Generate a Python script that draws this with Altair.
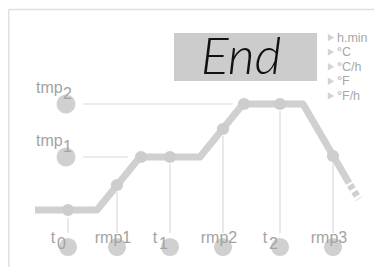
import altair as alt
import pandas as pd

# ---- schematic data (units: schematic time / temperature positions) ----
profile_t = [35, 97, 140, 200, 243, 303, 349]
profile_v = [210, 210, 157, 157, 104, 104, 183]
tail_t = [350, 359]
tail_v = [185, 199]

node_t = [68, 117, 141, 170, 223, 244, 280, 333]
node_v = [210, 185, 157, 157, 129, 104, 104, 156]

stage_t = [68, 117, 170, 223, 280, 333]
stage_top = [218, 192, 164, 136, 111, 163]
stage_main = ["t", "rmp1", "t", "rmp2", "t", "rmp3"]
stage_sub = ["0", "", "1", "", "2", ""]
stage_bottom = 233
stage_circle = 247

tmp_levels = [104, 157]
tmp_names = ["tmp", "tmp"]
tmp_subs = ["2", "1"]
tmp_line_end = [233, 128]

units = ["h.min", "°C", "°C/h", "°F", "°F/h"]
display_text = "End"

W, H = 366, 259
xs = alt.Scale(domain=[8, 8 + W], range=[0, W])
ys = alt.Scale(domain=[8 + H, 8], range=[H, 0])
X = lambda f: alt.X(f, type="quantitative", scale=xs, axis=None)
Y = lambda f: alt.Y(f, type="quantitative", scale=ys, axis=None)

LINE = "#d0d0d0"
THIN = "#dadada"
TXT = "#a3a3a3"

# frame
frame = pd.DataFrame({"x": [8.7, 8.7], "x2": [382, 8.7], "y": [9.5, 9.5], "y2": [9.5, 275]})
frame_l = alt.Chart(frame).mark_rule(color="#e0e0e0", strokeWidth=1.5).encode(
    x=X("x"), x2="x2", y=Y("y"), y2="y2")

# display box
box = pd.DataFrame({"x": [174], "x2": [317], "y": [33], "y2": [81], "t": [display_text], "tx": [241], "ty": [74]})
box_l = alt.Chart(box).mark_rect(color="#cccccc").encode(x=X("x"), x2="x2", y=Y("y"), y2="y2")
end_l = alt.Chart(box).mark_text(font="Lato", fontStyle="italic", fontWeight=300, fontSize=52,
                                 align="center", baseline="alphabetic", color="#111111").encode(
    x=X("tx"), y=Y("ty"), text="t:N")

# units legend
udf = pd.DataFrame({"u": units, "y": [37.5 + 14.6 * i for i in range(len(units))]})
udf["tx"] = 331
udf["lx"] = 337
tri_l = alt.Chart(udf).mark_point(shape="triangle-right", filled=True, size=55, color="#d3d3d3", opacity=1).encode(
    x=X("tx"), y=Y("y"))
utxt_l = alt.Chart(udf).mark_text(font="Liberation Sans", fontSize=12.5, align="left", baseline="middle",
                                  color="#a8a8a8").encode(x=X("lx"), y=Y("y"), text="u:N")

# tmp levels
tdf = pd.DataFrame({"y": tmp_levels, "x1": [83, 83], "x2": tmp_line_end, "cx": [66, 66],
                    "name": tmp_names, "sub": tmp_subs})
tdf["ly"] = tdf["y"] - 11
tdf["sy"] = tdf["y"] - 5
tdf["lx"] = 36
tdf["sx"] = 63
tline_l = alt.Chart(tdf).mark_rule(color=THIN, strokeWidth=1.2).encode(x=X("x1"), x2="x2", y=Y("y"))
tcirc_l = alt.Chart(tdf).mark_circle(size=360, color=LINE, opacity=1).encode(x=X("cx"), y=Y("y"))
tname_l = alt.Chart(tdf).mark_text(font="Liberation Sans", fontSize=16, align="left", baseline="alphabetic",
                                   color=TXT).encode(x=X("lx"), y=Y("ly"), text="name:N")
tsub_l = alt.Chart(tdf).mark_text(font="Liberation Sans", fontSize=16, align="left", baseline="alphabetic",
                                  color=TXT).encode(x=X("sx"), y=Y("sy"), text="sub:N")

# stage markers
sdf = pd.DataFrame({"x": stage_t, "top": stage_top, "main": stage_main, "sub": stage_sub})
sdf["bot"] = stage_bottom
sdf["cy"] = stage_circle
sdf["ly"] = 243
sdf["sy"] = 249
sdf["mx"] = [x - 15 if m == "t" else x - 4 for x, m in zip(stage_t, stage_main)]
sdf["sx"] = [x - 11 for x in stage_t]
vline_l = alt.Chart(sdf).mark_rule(color=THIN, strokeWidth=1.2).encode(x=X("x"), y=Y("top"), y2="bot")
scirc_l = alt.Chart(sdf).mark_circle(size=330, color=LINE, opacity=1).encode(x=X("x"), y=Y("cy"))
smain_l = alt.Chart(sdf).mark_text(font="Liberation Sans", fontSize=16, align="center", baseline="alphabetic",
                                   color=TXT).encode(x=X("mx"), y=Y("ly"), text="main:N")
ssub_l = alt.Chart(sdf).mark_text(font="Liberation Sans", fontSize=16, align="left", baseline="alphabetic",
                                  color=TXT).encode(x=X("sx"), y=Y("sy"), text="sub:N")

# profile
pdf = pd.DataFrame({"x": profile_t, "y": profile_v, "o": range(len(profile_t))})
prof_l = alt.Chart(pdf).mark_line(color=LINE, strokeWidth=7, strokeJoin="round", strokeCap="butt").encode(
    x=X("x"), y=Y("y"), order="o:Q")
tdash = pd.DataFrame({"x": tail_t, "y": tail_v, "o": [0, 1]})
tail_l = alt.Chart(tdash).mark_line(color=LINE, strokeWidth=7, strokeDash=[5, 3], strokeCap="butt").encode(
    x=X("x"), y=Y("y"), order="o:Q")
ndf = pd.DataFrame({"x": node_t, "y": node_v})
node_l = alt.Chart(ndf).mark_circle(size=150, color="#cdcdcd", opacity=1).encode(x=X("x"), y=Y("y"))

chart = alt.layer(
    frame_l, box_l, end_l, tri_l, utxt_l,
    tline_l, vline_l, tcirc_l, scirc_l,
    prof_l, tail_l, node_l,
    tname_l, tsub_l, smain_l, ssub_l,
).properties(width=W, height=H, padding=0, autosize=alt.AutoSizeParams(type="none"),
             background="white").configure_view(stroke=None)

chart.save("out.html", embed_options={"renderer": "svg", "actions": False})
